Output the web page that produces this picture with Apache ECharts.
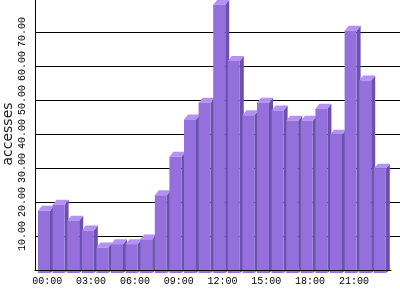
<!DOCTYPE html>
<html><head><meta charset="utf-8">
<script src="https://cdn.jsdelivr.net/npm/echarts@6/dist/echarts.min.js"></script>
<style>html,body{margin:0;padding:0;background:#fff}#c{width:400px;height:300px}</style>
</head><body><div id="c"></div>
<script>
const hours = ['00:00','01:00','02:00','03:00','04:00','05:00','06:00','07:00','08:00','09:00','10:00','11:00',
               '12:00','13:00','14:00','15:00','16:00','17:00','18:00','19:00','20:00','21:00','22:00','23:00'];
const accesses = [17.4,19.2,14.5,11.6,6.6,7.6,7.6,9.0,22.0,33.3,44.3,49.2,
                  78.0,61.5,45.5,49.2,46.9,43.9,43.9,47.4,39.8,70.4,55.7,29.8];
const yTickLabels = [10,20,30,40,50,60,70];

const slots = hours.concat(['']); // one empty slot at the right end of the plot
const FRONT = '#9370DB', SIDE = '#6A52AA', TOP = '#B690F5';
const chart = echarts.init(document.getElementById('c'), null, {renderer:'canvas'});
chart.setOption({
  animation: false,
  backgroundColor: '#fff',
  grid: [
    {left: 35, right: 0, top: -2, bottom: 30, containLabel: false, outerBoundsMode: 'none'},
    {left: 35, right: 9, top: -2, bottom: 30, containLabel: false, outerBoundsMode: 'none'}
  ],
  xAxis: [
    {type: 'category', gridIndex: 0, data: slots, boundaryGap: true,
     axisLine: {show: false}, axisTick: {show: false}, splitLine: {show: false},
     axisLabel: {interval: 2, margin: 6, color: '#000', fontFamily: 'Liberation Mono', fontSize: 10,
                 padding: [0, 0, 0, 10]}},
    {type: 'value', gridIndex: 1, min: 0, max: 1, z: 10,
     axisLine: {show: true, onZero: false, lineStyle: {color: '#000', width: 1}},
     axisTick: {show: false}, axisLabel: {show: false}, splitLine: {show: false}}
  ],
  yAxis: [
    {type: 'value', gridIndex: 0, min: 0, max: 80, interval: 10,
     name: 'accesses', nameLocation: 'middle', nameGap: 20, nameMoveOverlap: false,
     nameTextStyle: {fontFamily: 'DejaVu Sans', fontSize: 14, color: '#222'},
     axisLine: {show: true, lineStyle: {color: '#000', width: 1}},
     axisTick: {show: false},
     splitLine: {show: true, showMinLine: false, lineStyle: {color: '#000', width: 1}},
     axisLabel: {rotate: 90, margin: 8, color: '#000', fontFamily: 'Liberation Mono', fontSize: 10,
                 hideOverlap: false,
                 formatter: v => yTickLabels.indexOf(v) >= 0 ? v.toFixed(2) : ''}},
    {type: 'value', gridIndex: 1, min: 0, max: 80, show: false}
  ],
  series: [{
    type: 'custom', xAxisIndex: 0, yAxisIndex: 0,
    data: accesses.map((v, i) => [i, v]),
    renderItem: function (params, api) {
      const c = api.coord([api.value(0), api.value(1)]);
      const b = api.coord([api.value(0), 0]);
      const band = api.size([1, 0])[0];
      const L = c[0] - band / 2 + 3;
      const W = 12, dx = 4, dy = 5;
      const top = c[1], base = b[1];
      return {type: 'group', children: [
        {type: 'polygon', shape: {points: [[L + W, top], [L + W + dx, top - dy], [L + W + dx, base], [L + W, base + 3]]},
         style: {fill: SIDE}},
        {type: 'polygon', shape: {points: [[L, top], [L + dx, top - dy], [L + W + dx, top - dy], [L + W, top]]},
         style: {fill: TOP}},
        {type: 'rect', shape: {x: L, y: top, width: W, height: base + 3 - top}, style: {fill: FRONT}}
      ]};
    }
  }]
});
</script></body></html>
